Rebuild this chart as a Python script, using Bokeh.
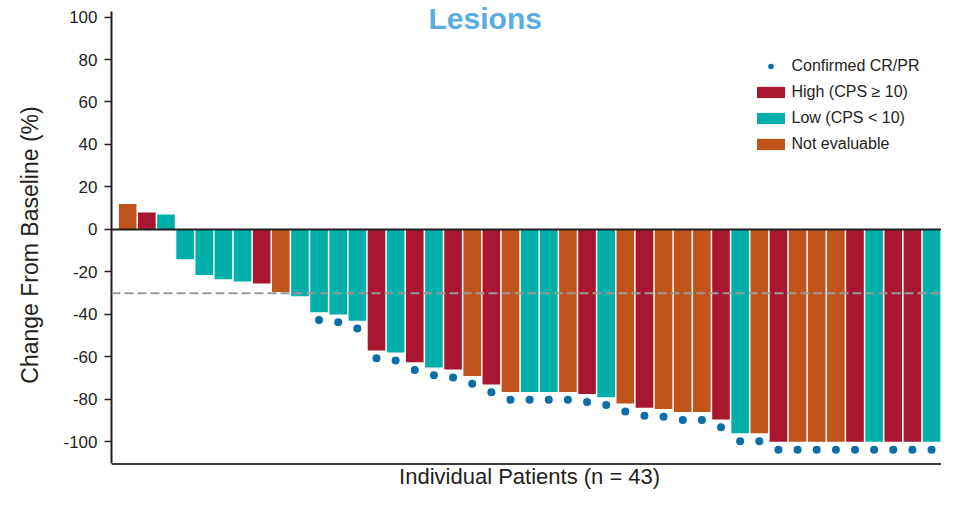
from bokeh.plotting import figure
from bokeh.models import ColumnDataSource, Span, Label, Legend, LegendItem, FixedTicker
from bokeh.embed import file_html
from bokeh.resources import INLINE

# ---- data ----
values = [12, 8, 7, -14, -21.5, -23.5, -24.5, -25.5, -29.5, -31.5, -39, -40, -43,
          -57, -58, -62.5, -65, -66, -69, -73, -76.5, -76.5, -76.5, -76.5, -77.5, -79,
          -82, -84, -84.5, -86, -86, -89.5, -96, -96,
          -100, -100, -100, -100, -100, -100, -100, -100, -100]
groups = ["NE", "H", "L", "L", "L", "L", "L", "H", "NE", "L", "L", "L", "L",
          "H", "L", "H", "L", "H", "NE", "H", "NE", "L", "L", "NE", "H", "L",
          "NE", "H", "NE", "NE", "NE", "H", "L", "NE",
          "H", "NE", "NE", "NE", "H", "L", "H", "H", "L"]
confirmed = [0] * 10 + [1] * 33
group_names = {"H": "High (CPS \u2265 10)", "L": "Low (CPS < 10)", "NE": "Not evaluable"}
ticks = [-100, -80, -60, -40, -20, 0, 20, 40, 60, 80, 100]
tick_labels = ["-100", "-80", "-60", "-40", "-20", "0", "20", "40", "60", "80", "100"]
threshold = -30

# ---- style ----
colors = {"H": "#a8162f", "L": "#00aeaa", "NE": "#c0541a"}
dot_color = "#0a6ea8"
text_color = "#231f20"
FONT = "Liberation Sans"
dot_offset = 3.7
axis_lo, axis_hi = -110.4, 102.6

n = len(values)
patients = list(range(1, n + 1))

p = figure(width=941, height=489, x_range=(0.154, 43.52), y_range=(-122.45, 107.78),
           output_backend="svg", toolbar_location=None,
           min_border_left=111, min_border_right=0, min_border_top=0, min_border_bottom=0)
p.xgrid.visible = False
p.ygrid.visible = False
p.outline_line_color = None
p.background_fill_color = "white"
p.xaxis.visible = False

rends = {}
for g in ["H", "L", "NE"]:
    idx = [i for i in range(n) if groups[i] == g]
    src = ColumnDataSource(dict(x=[patients[i] for i in idx], top=[values[i] for i in idx]))
    rends[g] = p.vbar(x="x", top="top", bottom=0, width=0.92, source=src,
                      fill_color=colors[g], line_color=None)

dsrc = ColumnDataSource(dict(
    x=[patients[i] for i in range(n) if confirmed[i]],
    y=[values[i] - dot_offset for i in range(n) if confirmed[i]]))
r_dot = p.scatter("x", "y", source=dsrc, size=8, fill_color=dot_color, line_color=None)

p.add_layout(Span(location=0, dimension="width", line_color=text_color, line_width=2))
p.add_layout(Span(location=threshold, dimension="width", line_color="#9a9a9a",
                  line_width=2, line_dash="9 4"))
p.add_layout(Span(location=axis_lo, dimension="width", line_color="#3a3a3a", line_width=2))

# y axis
p.yaxis.bounds = (axis_lo, axis_hi)
p.yaxis.ticker = FixedTicker(ticks=ticks)
p.yaxis.major_label_overrides = {t: l for t, l in zip(ticks, tick_labels)}
p.yaxis.major_tick_out = 7
p.yaxis.major_tick_in = 0
p.yaxis.minor_tick_out = 0
p.yaxis.minor_tick_in = 0
p.yaxis.major_label_standoff = 7
p.yaxis.axis_line_width = 2
p.yaxis.axis_line_color = text_color
p.yaxis.major_tick_line_color = text_color
p.yaxis.major_tick_line_width = 1.5
p.yaxis.major_label_text_font = FONT
p.yaxis.major_label_text_font_size = "17px"
p.yaxis.major_label_text_color = text_color
p.yaxis.axis_label = "Change From Baseline (%)"
p.yaxis.axis_label_text_font = FONT
p.yaxis.axis_label_text_font_size = "23px"
p.yaxis.axis_label_text_font_style = "normal"
p.yaxis.axis_label_text_color = text_color
p.yaxis.axis_label_standoff = 17

# texts
p.add_layout(Label(x=19.68, y=99.1, text="Lesions",
                   text_font=FONT, text_font_size="30px", text_font_style="bold",
                   text_color="#5aade0", text_align="center", text_baseline="middle"))
p.add_layout(Label(x=22.0, y=-116.5, text="Individual Patients (n = 43)", text_font=FONT,
                   text_font_size="22px", text_color=text_color,
                   text_align="center", text_baseline="middle"))

legend = Legend(items=[LegendItem(label="Confirmed CR/PR", renderers=[r_dot]),
                       LegendItem(label=group_names["H"], renderers=[rends["H"]]),
                       LegendItem(label=group_names["L"], renderers=[rends["L"]]),
                       LegendItem(label=group_names["NE"], renderers=[rends["NE"]])],
                location=(641.5, 336.5), orientation="vertical",
                glyph_width=35, glyph_height=14, label_height=14, label_standoff=4,
                spacing=8, padding=0, margin=0, border_line_color=None,
                background_fill_alpha=0, label_text_font=FONT,
                label_text_font_size="16px", label_text_color=text_color)
p.add_layout(legend)

open("out.html", "w").write(file_html(p, INLINE))
